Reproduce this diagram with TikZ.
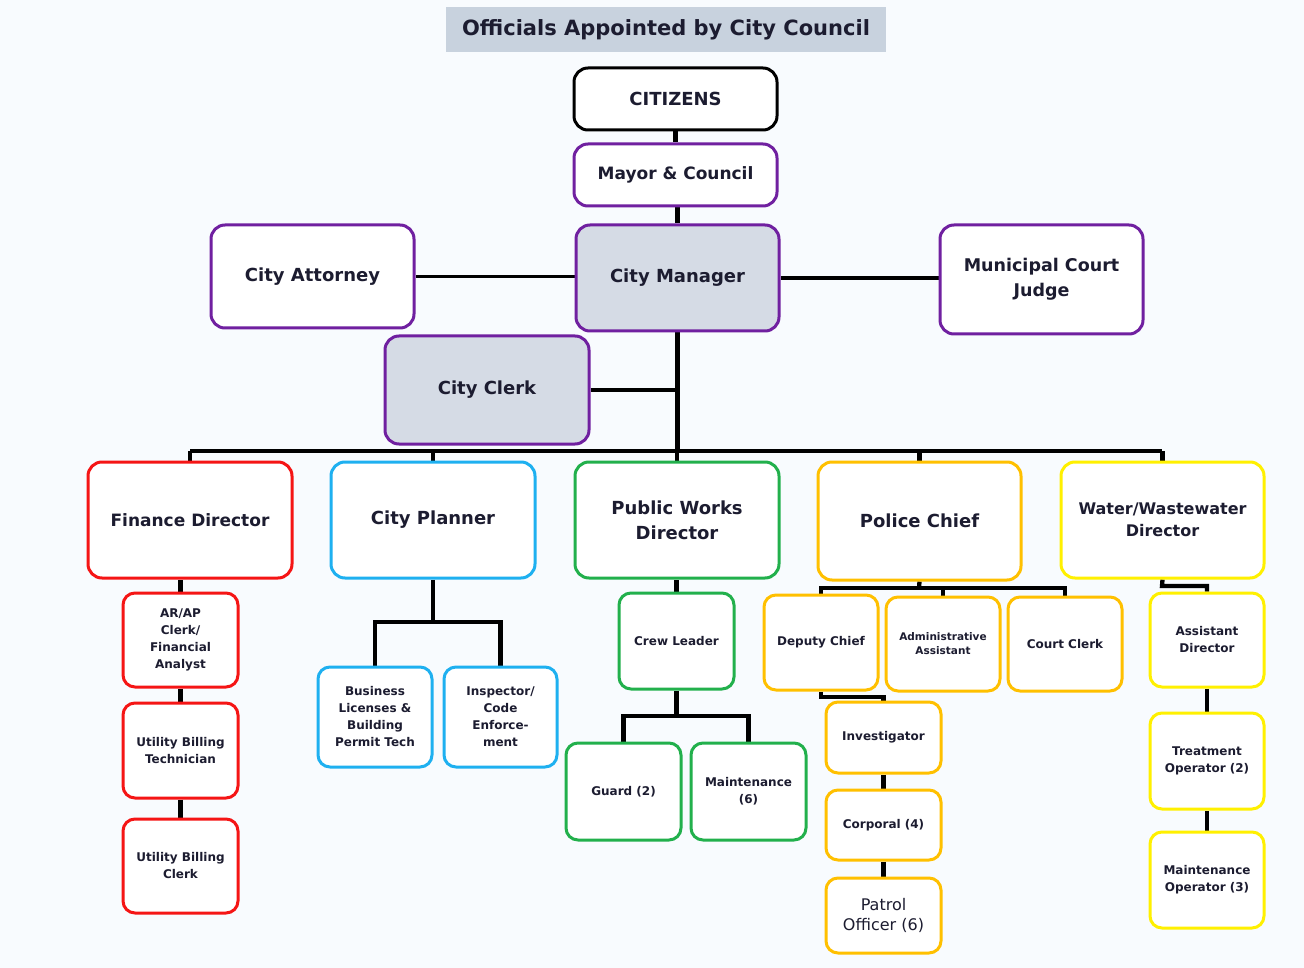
\documentclass[tikz,border=0pt]{standalone}
\usepackage{fontspec}
\setmainfont{DejaVu Sans}
\pgfdeclarelayer{bg}
\pgfdeclarelayer{lines}
\pgfsetlayers{bg,lines,main}
\definecolor{bgc}{HTML}{F8FBFE}
\definecolor{txt}{HTML}{1C1C30}
\definecolor{titlefill}{HTML}{C8D2DE}
\definecolor{grayfill}{HTML}{D5DBE5}
\definecolor{cpurple}{HTML}{7020A0}
\definecolor{cred}{HTML}{F51515}
\definecolor{cblue}{HTML}{1EB0F0}
\definecolor{cgreen}{HTML}{22B04C}
\definecolor{corange}{HTML}{FFC000}
\definecolor{cyellow}{HTML}{FFF000}
\tikzset{
  org/.style={draw, rounded corners=14pt, line width=3pt, fill=white, align=center, inner sep=1pt, text=txt},
  smallbox/.style={org, rounded corners=12pt},
  bigtxt/.style={font=\bfseries\fontsize{18}{25}\selectfont},
  smtxt/.style={font=\bfseries\fontsize{12}{17}\selectfont},
  conn/.style={line width=4.3pt},
  thinconn/.style={line width=2.5pt},
}
\newcommand\orgbox[7]{\node[#6,minimum width={#4-#2},minimum height={#5-#3}] (#1) at ({(#2+#4)/2},{(#3+#5)/2}) {#7};}
\begin{document}
\begin{tikzpicture}[x=1pt,y=-1pt]
\begin{pgfonlayer}{bg}
\fill[bgc] (0,0) rectangle (1304,968);
\end{pgfonlayer}
\useasboundingbox (0,0) rectangle (1304,968);
% title
\node[fill=titlefill, minimum width=440, minimum height=45, inner sep=0, text=txt, font=\bfseries\fontsize{21}{25}\selectfont] (title) at (666,29.5) {Officials Appointed by City Council};
% top
\orgbox{cit}{574}{68}{777}{130}{org,draw=black,bigtxt}{CITIZENS}
\orgbox{mayor}{574}{144}{777}{206}{org,draw=cpurple,font=\bfseries\fontsize{17}{25}\selectfont}{Mayor \& Council}
\orgbox{att}{211}{225}{414}{328}{org,draw=cpurple,bigtxt}{City Attorney}
\orgbox{mgr}{576}{225}{779}{331}{org,draw=cpurple,fill=grayfill,bigtxt}{City Manager}
\orgbox{judge}{940}{225}{1143}{334}{org,draw=cpurple,font=\bfseries\fontsize{17.5}{25}\selectfont}{Municipal Court\\Judge}
\orgbox{clerk}{385}{336}{589}{444}{org,draw=cpurple,fill=grayfill,bigtxt}{City Clerk}
% directors
\orgbox{fin}{88}{462}{292}{578}{org,draw=cred,font=\bfseries\fontsize{17}{25}\selectfont}{Finance Director}
\orgbox{pl}{331}{462}{535}{578}{org,draw=cblue,bigtxt}{City Planner}
\orgbox{pw}{575}{462}{779}{578}{org,draw=cgreen,bigtxt}{Public Works\\Director}
\orgbox{pc}{818}{462}{1021}{580}{org,draw=corange,bigtxt}{Police Chief}
\orgbox{ww}{1061}{462}{1264}{578}{org,draw=cyellow,font=\bfseries\fontsize{16}{22}\selectfont}{Water/Wastewater\\Director}
% finance
\orgbox{arap}{123}{593}{238}{687}{smallbox,draw=cred,smtxt}{AR/AP\\Clerk/\\Financial\\Analyst}
\orgbox{ubt}{123}{703}{238}{798}{smallbox,draw=cred,smtxt}{Utility Billing\\Technician}
\orgbox{ubc}{123}{819}{238}{913}{smallbox,draw=cred,smtxt}{Utility Billing\\Clerk}
% planner
\orgbox{bl}{318}{667}{432}{767}{smallbox,draw=cblue,smtxt}{Business\\Licenses \&\\Building\\Permit Tech}
\orgbox{insp}{444}{667}{557}{767}{smallbox,draw=cblue,smtxt}{Inspector/\\Code\\Enforce-\\ment}
% public works
\orgbox{crew}{619}{593}{734}{689}{smallbox,draw=cgreen,smtxt}{Crew Leader}
\orgbox{guard}{566}{743}{681}{840}{smallbox,draw=cgreen,smtxt}{Guard (2)}
\orgbox{maint}{691}{743}{806}{840}{smallbox,draw=cgreen,smtxt}{Maintenance\\(6)}
% police
\orgbox{dep}{764}{595}{878}{690}{smallbox,draw=corange,smtxt}{Deputy Chief}
\orgbox{adm}{886}{597}{1000}{691}{smallbox,draw=corange,font=\bfseries\fontsize{10.5}{14}\selectfont}{Administrative\\Assistant}
\orgbox{cc}{1008}{597}{1122}{691}{smallbox,draw=corange,smtxt}{Court Clerk}
\orgbox{inv}{826}{702}{941}{773}{smallbox,draw=corange,smtxt}{Investigator}
\orgbox{corp}{826}{790}{941}{860}{smallbox,draw=corange,smtxt}{Corporal (4)}
\orgbox{pat}{826}{878}{941}{953}{smallbox,draw=corange,font=\fontsize{16}{20}\selectfont}{Patrol\\Officer (6)}
% water
\orgbox{ad}{1150}{593}{1264}{687}{smallbox,draw=cyellow,smtxt}{Assistant\\Director}
\orgbox{top}{1150}{713}{1264}{809}{smallbox,draw=cyellow,smtxt}{Treatment\\Operator (2)}
\orgbox{mop}{1150}{832}{1264}{928}{smallbox,draw=cyellow,smtxt}{Maintenance\\Operator (3)}
% junctions
\coordinate (busL) at (190,451);
\coordinate (busR) at (1162,451);
\coordinate (plj) at (433,622);
\coordinate (pwj) at (676.5,716);
\coordinate (pcj) at (919,588);
\coordinate (dj) at (821,697);
\coordinate (wj) at (1162,586);
\begin{pgfonlayer}{lines}
\draw[conn] (cit.south) -- (mayor.north);
\draw[conn] (mgr.north) -- (mgr.north |- mayor.south);
\draw[thinconn] (att.east) -- (att.east -| mgr.west);
\draw[conn] (mgr.east) -- (mgr.east -| judge.west);
\draw[conn] (mgr.south) -- (mgr.south |- busL);
\draw[conn] (clerk.east) -- (clerk.east -| mgr.south);
\draw[conn] (busL) -- (busR);
\draw[conn] (fin.north) -- (fin.north |- busL);
\draw[conn] (pl.north) -- (pl.north |- busL);
\draw[conn] (pw.north) -- (pw.north |- busL);
\draw[conn] (pc.north) -- (pc.north |- busL);
\draw[conn] (ww.north) -- (ww.north |- busL);
% finance
\draw[conn] (arap.north) -- (arap.north |- fin.south);
\draw[conn] (arap.south) -- (ubt.north);
\draw[conn] (ubt.south) -- (ubc.north);
% planner
\draw[conn] (pl.south) -- (plj);
\draw[conn] (bl.north) |- (plj) -| (insp.north);
% public works
\draw[conn] (crew.north) -- (crew.north |- pw.south);
\draw[conn] (crew.south) -- (pwj);
\draw[conn] (guard.north) |- (pwj) -| (maint.north);
% police
\draw[conn] (pc.south) -- (pcj);
\draw[conn] (dep.north) |- (pcj) -| (cc.north);
\draw[conn] (adm.north) -- (adm.north |- pcj);
\draw[conn] (dep.south) -- (dj) -| (inv.north);
\draw[conn] (inv.south) -- (corp.north);
\draw[conn] (corp.south) -- (pat.north);
% water
\draw[conn] (ww.south) -- (wj) -| (ad.north);
\draw[conn] (ad.south) -- (top.north);
\draw[conn] (top.south) -- (mop.north);
\end{pgfonlayer}
\end{tikzpicture}
\end{document}
